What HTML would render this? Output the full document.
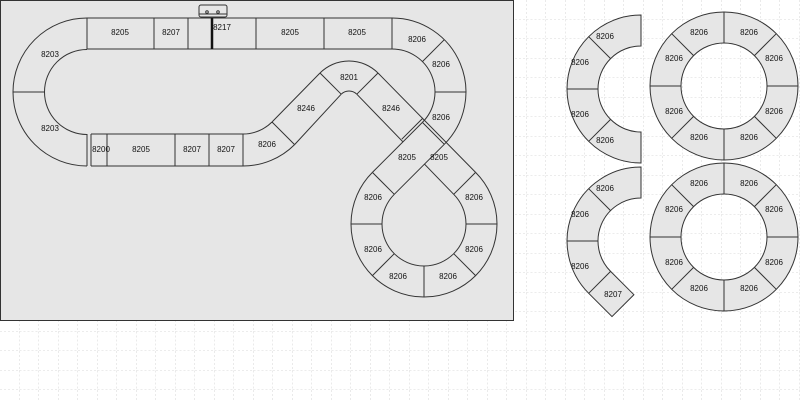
<!DOCTYPE html>
<html><head><meta charset="utf-8"><style>
html,body{margin:0;padding:0;background:#fff;}
svg{display:block;}
text{font-family:"Liberation Sans",sans-serif;font-size:8px;fill:#111;text-anchor:middle;}
</style></head><body>
<svg width="800" height="400" viewBox="0 0 800 400" xmlns="http://www.w3.org/2000/svg">
<defs>
<pattern id="g" width="19.5" height="19.5" patternUnits="userSpaceOnUse">
<path d="M19.5 0V19.5M0 19.5H19.5" stroke="#ccc" stroke-width="0.8" stroke-dasharray="2,2" fill="none"/>
</pattern>
</defs>
<rect width="800" height="400" fill="url(#g)"/>
<rect x="0.5" y="0.5" width="513" height="320" fill="#e6e6e6" stroke="#333"/>

<g fill="none" stroke="#333" stroke-width="1">
<path d="M87 18H392M87 49H392"/>
<path d="M87 18V49M154 18V49M188 18V49M256 18V49M324 18V49M392 18V49"/>
<path d="M212 18V49" stroke-width="2.5" stroke="#111"/>
<rect x="199" y="5" width="28" height="12" rx="2" fill="#e6e6e6"/>
<path d="M199 14H227"/>
<circle cx="207" cy="12" r="1.3"/><circle cx="218" cy="12" r="1.3"/>
<path d="M87 18A74 74 0 0 0 87 166M87 49.5A42.5 42.5 0 0 0 87 134.5"/>
<path d="M13 92H44.5M87 134V166"/>
<path d="M91 134H243M91 166H243M91 134V166M107 134V166M175 134V166M209 134V166M243 134V166"/>
<path d="M243 166A73 73 0 0 0 294.6 144.6M243 134A41 41 0 0 0 272 122M272 122L294.6 144.6"/>
<path d="M320 73L272 122M341.2 94.2L294.6 144.6"/>
<path d="M320 73A41 41 0 0 1 378 73M341.2 94.2A11 11 0 0 1 356.8 94.2M320 73L341.2 94.2M378 73L356.8 94.2"/>
<path d="M378 73L475.6 172.4M356.8 94.2L453.7 194.3M423 118L401.8 139.2"/>
<path d="M392 18A74 74 0 0 1 444.3 144.3M392 49A43 43 0 0 1 422.4 122.4"/>
<path d="M422.4 61.6L444.3 39.7M435 92H466"/>
<polygon points="422.4,122.4 444.3,144.3 394.3,194.3 372.4,172.4" fill="#e6e6e6" stroke="none"/>
<path d="M422.4 122.4L372.4 172.4M444.3 144.3L394.3 194.3M422.4 122.4L444.3 144.3"/>
<path d="M372.4 172.4A73 73 0 1 0 475.6 172.4M394.3 194.3A42 42 0 1 0 453.7 194.3"/>
<path d="M394.3 194.3L372.4 172.4M453.7 194.3L475.6 172.4M382 224H351M466 224H497M394.3 253.7L372.4 275.6M453.7 253.7L475.6 275.6M424 266V297"/>
</g>

<g fill="#e6e6e6" stroke="#333" stroke-width="1">
<path d="M641 15A74 74 0 0 0 641 163L641 132A43 43 0 0 1 641 46Z"/>
<path d="M610.6 58.6L588.7 36.7M598 89H567M610.6 119.4L588.7 141.3" fill="none"/>
<path d="M641 167A74 74 0 0 0 588.7 293.3L612 316.6L633.9 294.7L610.6 271.4A43 43 0 0 1 641 198Z"/>
<path d="M610.6 210.6L588.7 188.7M598 241H567M610.6 271.4L588.7 293.3" fill="none"/>
<path fill-rule="evenodd" d="M798 86A74 74 0 1 0 650 86A74 74 0 1 0 798 86ZM767 86A43 43 0 1 0 681 86A43 43 0 1 0 767 86Z"/>
<path fill="none" d="M767 86H798M681 86H650M724 43V12M724 129V160M754.4 55.6L776.3 33.7M693.6 55.6L671.7 33.7M754.4 116.4L776.3 138.3M693.6 116.4L671.7 138.3"/>
<path fill-rule="evenodd" d="M798 237A74 74 0 1 0 650 237A74 74 0 1 0 798 237ZM767 237A43 43 0 1 0 681 237A43 43 0 1 0 767 237Z"/>
<path fill="none" d="M767 237H798M681 237H650M724 194V163M724 280V311M754.4 206.6L776.3 184.7M693.6 206.6L671.7 184.7M754.4 267.4L776.3 289.3M693.6 267.4L671.7 289.3"/>
</g>

<g>
<text x="120" y="35">8205</text><text x="171" y="35">8207</text><text x="222" y="30">8217</text>
<text x="290" y="35">8205</text><text x="357" y="35">8205</text>
<text x="417" y="42">8206</text><text x="441" y="67">8206</text><text x="441" y="120">8206</text>
<text x="50" y="57">8203</text><text x="50" y="131">8203</text>
<text x="101" y="152">8200</text><text x="141" y="152">8205</text><text x="192" y="152">8207</text><text x="226" y="152">8207</text>
<text x="267" y="147">8206</text><text x="306" y="111">8246</text><text x="349" y="80">8201</text><text x="391" y="111">8246</text>
<text x="407" y="160">8205</text><text x="439" y="160">8205</text>
<text x="373" y="200">8206</text><text x="474" y="200">8206</text><text x="373" y="252">8206</text><text x="474" y="252">8206</text>
<text x="398" y="279">8206</text><text x="448" y="279">8206</text>

<text x="605" y="39">8206</text><text x="580" y="65">8206</text><text x="580" y="117">8206</text><text x="605" y="143">8206</text>
<text x="605" y="191">8206</text><text x="580" y="217">8206</text><text x="580" y="269">8206</text><text x="613" y="297">8207</text>

<text x="699" y="35">8206</text><text x="749" y="35">8206</text><text x="774" y="61">8206</text><text x="774" y="114">8206</text>
<text x="749" y="140">8206</text><text x="699" y="140">8206</text><text x="674" y="114">8206</text><text x="674" y="61">8206</text>

<text x="699" y="186">8206</text><text x="749" y="186">8206</text><text x="774" y="212">8206</text><text x="774" y="265">8206</text>
<text x="749" y="291">8206</text><text x="699" y="291">8206</text><text x="674" y="265">8206</text><text x="674" y="212">8206</text>
</g>
</svg>
</body></html>
